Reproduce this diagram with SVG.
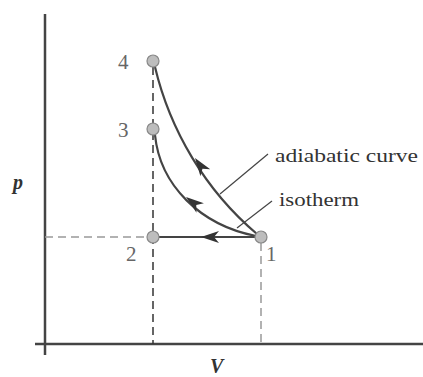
<svg xmlns="http://www.w3.org/2000/svg" width="423" height="377" viewBox="0 0 423 377">
<style>
.axis{stroke:#444;stroke-width:2.5;fill:none}
.dashd{stroke:#333;stroke-width:1.5;stroke-dasharray:8,5;fill:none}
.dashg{stroke:#999;stroke-width:1.5;stroke-dasharray:8,5;fill:none}
.curve{stroke:#444;stroke-width:2.2;fill:none}
.lead{stroke:#444;stroke-width:1.2;fill:none}
.pt{fill:#bdbdbd;stroke:#888;stroke-width:1.2}
.num{font-family:"Liberation Serif","DejaVu Serif",serif;font-size:21px;fill:#666}
.lbl{font-family:"Liberation Serif","DejaVu Serif",serif;font-size:19px;fill:#333}
.ax{font-family:"Liberation Serif","DejaVu Serif",serif;font-size:20px;font-style:italic;font-weight:bold;fill:#333}
.arr{fill:#333}
</style>
<defs>
<path id="ah" d="M0,0 L18,-6 L13,0 L18,6 Z"/>
</defs>
<g id="axes">
<line class="axis" x1="45" y1="14" x2="45" y2="355"/>
<line class="axis" x1="35" y1="344" x2="423" y2="344"/>
<text class="ax" x="13" y="189">p</text>
<text class="ax" x="210" y="373">V</text>
</g>
<g id="connectors">
<line class="dashd" x1="153" y1="67" x2="153" y2="344"/>
<line class="dashg" x1="45" y1="237" x2="147" y2="237"/>
<line class="dashg" x1="261" y1="243" x2="261" y2="344"/>
<path class="curve" d="M155,67 C170,130 205,190 257,234"/>
<path class="curve" d="M155,135 C160,185 200,225 256,236"/>
<line class="curve" x1="159" y1="237" x2="255" y2="237"/>
<use href="#ah" class="arr" transform="translate(195,158) rotate(55)"/>
<use href="#ah" class="arr" transform="translate(186,197) rotate(38)"/>
<use href="#ah" class="arr" transform="translate(201,237)"/>
<line class="lead" x1="220" y1="194" x2="268" y2="154"/>
<line class="lead" x1="237" y1="228" x2="272" y2="201"/>
</g>
<g id="node4"><circle class="pt" cx="153" cy="61" r="6"/><text class="num" x="118" y="69">4</text></g>
<g id="node3"><circle class="pt" cx="153" cy="129" r="6"/><text class="num" x="118" y="137">3</text></g>
<g id="node2"><circle class="pt" cx="153" cy="237" r="6"/><text class="num" x="126" y="261">2</text></g>
<g id="node1"><circle class="pt" cx="261" cy="237" r="6"/><text class="num" x="266" y="261">1</text></g>
<g id="label-adiabatic"><text class="lbl" x="275" y="162" textLength="143" lengthAdjust="spacingAndGlyphs">adiabatic curve</text></g>
<g id="label-isotherm"><text class="lbl" x="279" y="206" textLength="80" lengthAdjust="spacingAndGlyphs">isotherm</text></g>
</svg>
